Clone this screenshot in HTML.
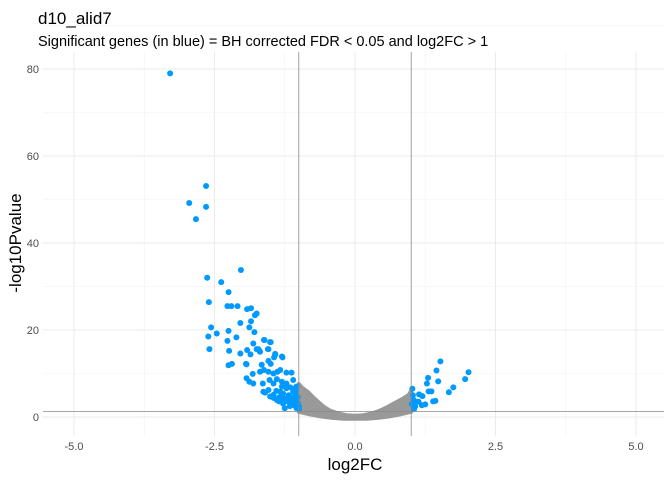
<!DOCTYPE html>
<html><head><meta charset="utf-8"><style>
body{margin:0;background:#fff;}
svg{display:block;font-family:"Liberation Sans",sans-serif;}
</style></head><body>
<svg id="c" width="672" height="480">
<text x="38" y="24" font-size="17" fill="#000">d10_alid7</text>
<text x="38" y="46" font-size="14.5" fill="#000">Significant genes (in blue) = BH corrected FDR &lt; 0.05 and log2FC &gt; 1</text>
<text x="355" y="470" font-size="17" text-anchor="middle" fill="#000">log2FC</text>
<text transform="translate(21,243) rotate(-90)" font-size="17" text-anchor="middle" fill="#000">-log10Pvalue</text>
<g id="grid"></g><g id="marks"></g><g id="ticks"></g>
</svg>
<script>
const xTicks=[-5,-2.5,0,2.5,5];
const xTickLabels=["-5.0","-2.5","0.0","2.5","5.0"];
const yTicks=[0,20,40,60,80];
const yTickLabels=["0","20","40","60","80"];
const grayX=[-1,-0.95,-0.85,-0.75,-0.65,-0.55,-0.45,-0.3,-0.15,0,0.15,0.3,0.45,0.55,0.65,0.75,0.85,0.95,1,1,0.8,0.6,0.4,0.2,0,-0.2,-0.4,-0.6,-0.8,-1];
const grayY=[7.6,6.8,5.9,4.6,3.4,2.3,1.5,0.8,0.4,0.3,0.4,0.8,1.5,2.1,2.8,3.5,4.2,5.0,6.0,1.2,0.6,0.1,-0.2,-0.4,-0.4,-0.4,-0.2,0.1,0.6,1.2];
const blueX=[-3.29,-2.95,-2.83,-2.65,-2.65,-2.03,-2.63,-2.38,-2.6,-2.25,-2.27,-2.2,-2.09,-1.92,-1.85,-1.75,-1.78,-1.85,-2.04,-2.56,-1.88,-2.25,-2.46,-1.79,-2.61,-2.11,-2.27,-1.61,-1.51,-1.81,-2.59,-2.24,-1.92,-2.04,-1.75,-1.7,-1.86,-1.55,-1.42,-1.44,-1.29,-2.25,-2.19,-1.93,
-1.62,-1.5,-1.72,-1.69,-1.54,-1.42,-1.3,-1.94,-1.66,-1.54,-1.5,-1.69,-1.62,-1.82,-1.93,-1.88,-1.54,-1.45,-1.38,-1.33,-1.22,-1.13,-1.64,-1.52,-1.45,-1.39,-1.3,-1.81,-1.63,-1.54,-1.22,-1.1,-1.04,-1.51,-1.39,-1.28,-1.16,-1.04,-1.28,-1.16,-1.1,-1.04,-1.22,-1.33,-1.45,-1.1,-1.02,-1.05,-1.2,-1.35,-1.0,-1.08,-1.25,
-1.6,-1.45,-1.35,-1.3,-1.2,-1.15,-1.1,-1.05,-1.0,-1.02,-1.12,-1.18,-1.25,-1.4,-1.02,-1.06,-1.08,-1.15,-1.3,-1.0,
1.52,1.45,2.02,1.96,1.3,1.28,1.48,1.75,1.67,1.02,1.14,1.2,1.31,1.36,1.39,1.43,1.25,1.19,1.1,1.13,1.07,1.03,1.05,1.01,1.04];
const blueY=[79,49.2,45.5,53.1,48.3,33.8,32,31,26.4,28.7,25.5,25.5,25.5,24.8,25,23.8,23.4,22,21.6,20.6,20.6,19.8,19.2,19.5,18.5,18.3,17.5,17.7,17.2,16.9,15.6,15.2,15.4,14.6,15.6,15.2,14.4,15.6,14.3,13.7,13.7,11.9,12.2,12.1,
17.7,17.2,15.6,15.0,15.6,14.5,13.9,12.2,12.0,12.9,12.2,10.4,10.8,9.9,8.9,8.1,10.4,10.0,10.4,10.8,10.2,10.2,7.7,8.5,7.7,8.7,8.1,7.7,5.8,6.2,7.7,8.5,7.0,4.7,3.9,3.1,2.5,2.0,5.4,4.7,3.9,3.5,6.6,5.8,5.1,5.8,3.0,5.0,4.0,4.5,2.5,6.5,2.0,
5.6,4.4,3.6,4.2,3.6,3.0,2.8,2.4,2.0,3.2,4.4,5.0,4.2,6.0,4.5,6.0,3.2,6.8,7.0,1.8,
12.8,10.7,10.3,8.7,9.0,7.7,8.2,6.8,5.7,6.5,5.2,4.8,5.9,5.9,3.6,3.7,2.9,2.7,3.5,3.5,2.4,5.0,1.8,3.0,4.0];
const L=43,R=664,T=52,B=436;
const sx=v=>355+v*56.2, sy=v=>417-v*4.35;
const NS="http://www.w3.org/2000/svg";
function mk(t,a,p){const e=document.createElementNS(NS,t);for(const k in a)e.setAttribute(k,a[k]);p.appendChild(e);return e;}
const grid=document.getElementById('grid'),marks=document.getElementById('marks'),ticks=document.getElementById('ticks');
for(let i=0;i<xTicks.length;i++){
 const l=mk('line',{x1:sx(xTicks[i]),x2:sx(xTicks[i]),y1:T,y2:B,stroke:'#ebebeb','stroke-width':1},grid);
 
 
 if(i<xTicks.length-1){const m=(xTicks[i]+xTicks[i+1])/2;
 const g=mk('line',{x1:sx(m),x2:sx(m),y1:T,y2:B,stroke:'#f2f2f2','stroke-width':0.6},grid);
 
 }
 const t=mk('text',{x:sx(xTicks[i]),y:450,'font-size':11,'text-anchor':'middle',fill:'#4d4d4d'},ticks);
 t.textContent=xTickLabels[i];
 
 
}
for(let i=0;i<yTicks.length;i++){
 const l=mk('line',{x1:L,x2:R,y1:sy(yTicks[i]),y2:sy(yTicks[i]),stroke:'#ebebeb','stroke-width':1},grid);
 
 
 const m=yTicks[i]+10;
 const g=mk('line',{x1:L,x2:R,y1:sy(m),y2:sy(m),stroke:'#f2f2f2','stroke-width':0.6},grid);
 
 
 const t=mk('text',{x:39,y:sy(yTicks[i])+4,'font-size':11,'text-anchor':'end',fill:'#4d4d4d'},ticks);
 t.textContent=yTickLabels[i];
 
 
}
const gp=mk('polygon',{points:grayX.map((x,i)=>sx(x)+','+sy(grayY[i])).join(' '),fill:'#999999',stroke:'#999999','stroke-width':4,'stroke-linejoin':'round'},marks);


for(let i=0;i<blueX.length;i++){
 const c=mk('circle',{cx:sx(blueX[i]),cy:sy(blueY[i]),r:3,fill:'#0099ff'},marks);
 
 
}
[[-1,'threshold-line-neg'],[1,'threshold-line-pos']].forEach(([v,n])=>{
 const l=mk('line',{x1:sx(v),x2:sx(v),y1:T,y2:B,stroke:'#888','stroke-width':0.8},marks);
 
 
});
const h=mk('line',{x1:L,x2:R,y1:sy(1.3),y2:sy(1.3),stroke:'#888','stroke-width':0.8},marks);


</script>
</body></html>
